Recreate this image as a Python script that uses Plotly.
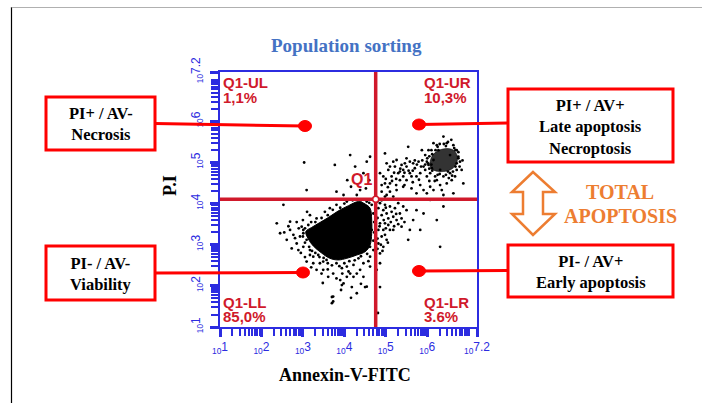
import plotly.graph_objects as go

# ---------------- data (log10 decades) ----------------
TITLE = "Population sorting"
X_TITLE = "Annexin-V-FITC"
Y_TITLE = "P.I"
TICK_LOG = [1, 2, 3, 4, 5, 6, 7.2]
TICK_EXP = ["1", "2", "3", "4", "5", "6", "7.2"]
AXIS_RANGE = [1, 7.2]

GATE_X_LOG = 4.756   # Annexin-V gate
GATE_Y_LOG = 4.105   # PI gate

QUAD_NAMES = ["Q1-UL", "Q1-UR", "Q1-LL", "Q1-LR"]
QUAD_PCTS = ["1,1%", "10,3%", "85,0%", "3.6%"]

# outline of the dense viable population
MAIN_X = [4.34, 4.50, 4.62, 4.66, 4.66, 4.62, 4.50, 4.30, 4.06, 3.85, 3.65, 3.45,
          3.25, 3.13, 3.07, 3.21, 3.41, 3.61, 3.85, 4.10, 4.34]
MAIN_Y = [4.05, 3.99, 3.89, 3.60, 3.28, 2.99, 2.83, 2.75, 2.67, 2.63, 2.67, 2.80,
          2.97, 3.14, 3.32, 3.42, 3.54, 3.66, 3.82, 3.95, 4.05]
# outline of the dense late-apoptotic population
UR_X = [6.07, 6.15, 6.35, 6.59, 6.71, 6.71, 6.59, 6.39, 6.19, 6.08, 6.07]
UR_Y = [5.02, 5.20, 5.32, 5.32, 5.20, 4.98, 4.84, 4.78, 4.80, 4.88, 5.02]

# individual events
EVENTS = [
    # upper-left
    (3.03, 5.00), (3.77, 4.94), (4.14, 5.18), (3.09, 4.33), (3.81, 4.29), (4.07, 4.57),
    (4.26, 4.90), (4.54, 5.02), (4.62, 5.14), (4.38, 4.33), (4.52, 4.37), (4.60, 4.57),
    (4.16, 4.41), (4.46, 4.74), (3.98, 4.21), (4.30, 4.21),
    # upper-right
    (4.98, 5.22), (5.02, 4.98), (5.10, 4.90), (5.18, 5.02), (5.26, 5.06), (5.38, 4.94),
    (5.42, 4.82), (5.50, 5.10), (5.58, 4.74), (5.66, 4.98), (5.74, 4.66), (5.91, 4.90),
    (5.99, 5.02), (5.54, 5.38), (6.15, 5.47), (6.39, 5.63), (6.71, 5.30), (6.83, 4.82),
    (6.87, 4.49), (6.63, 4.25), (6.39, 4.21), (6.23, 4.57), (6.07, 4.41), (5.91, 4.33),
    (5.74, 4.25), (5.42, 4.41), (5.26, 4.33), (5.10, 4.49), (4.94, 4.66), (4.86, 4.74),
    (4.90, 4.29), (5.02, 4.21), (5.18, 4.17), (5.34, 4.57), (5.87, 5.30), (6.27, 5.30),
    (6.55, 5.18), (6.71, 4.98), (6.67, 4.66), (6.47, 4.49), (5.99, 4.66), (5.83, 4.45),
    (6.11, 4.86), (5.50, 4.57), (5.62, 4.37), (5.14, 4.66), (5.06, 4.82), (5.22, 4.90),
    (5.30, 4.74), (5.46, 4.98), (5.58, 5.02), (5.70, 4.86), (5.79, 5.02), (5.83, 4.74),
    (5.95, 4.82), (6.03, 4.94), (6.07, 4.74), (6.15, 5.06), (6.19, 4.66), (6.31, 4.82),
    (6.39, 4.66), (6.55, 4.74), (4.98, 4.49), (5.34, 4.78), (5.42, 4.66), (5.62, 4.66),
    (5.95, 5.18), (6.03, 5.30), (6.23, 5.42), (6.47, 5.47), (6.63, 5.42), (6.75, 5.14),
    (6.79, 5.02), (6.71, 4.82), (6.59, 4.57), (6.31, 4.45), (6.15, 4.33), (5.99, 4.25),
    (6.35, 4.33), (5.10, 4.29), (4.98, 4.17),
    (4.90, 4.45), (5.00, 4.60), (5.05, 4.40), (5.15, 4.55), (5.20, 4.75), (5.25, 4.60),
    (5.35, 4.85), (5.45, 4.75), (5.50, 4.90), (5.55, 4.80), (5.65, 4.80), (5.70, 5.05),
    (5.75, 4.95), (5.85, 4.90), (5.88, 5.05), (5.95, 4.95), (6.00, 5.10), (6.05, 4.85),
    (6.10, 4.95), (6.12, 5.20), (6.20, 5.30), (6.25, 4.70), (6.30, 5.45), (6.40, 5.45),
    (6.45, 4.70), (6.52, 4.62), (6.60, 4.68), (6.65, 5.35), (6.75, 5.25), (6.78, 4.90),
    (6.62, 4.78), (6.85, 5.05), (6.50, 5.50), (6.58, 5.55), (6.18, 4.55), (6.05, 4.55),
    (5.80, 4.58), (5.65, 4.52), (5.45, 4.45), (5.25, 4.45),
    (6.05, 5.15), (6.10, 5.30), (6.25, 5.38), (6.45, 5.40), (6.68, 5.30), (6.75, 5.10),
    (6.68, 4.90), (6.50, 4.78), (6.30, 4.72), (6.12, 4.80), (6.02, 4.98),
    # lower-right
    (4.86, 4.01), (4.94, 3.84), (5.02, 3.76), (5.10, 3.93), (5.18, 3.68), (5.26, 3.60),
    (4.98, 3.52), (5.10, 3.36), (4.90, 3.20), (5.34, 3.76), (5.42, 3.93), (5.18, 3.36),
    (5.02, 3.12), (4.94, 2.95), (4.86, 2.79), (5.58, 3.36), (5.66, 3.60), (5.83, 3.36),
    (5.91, 3.76), (6.23, 3.60), (6.39, 3.93), (6.31, 2.95), (5.54, 3.12), (5.38, 3.44),
    (6.07, 4.09), (5.74, 3.84), (4.82, 3.89), (4.90, 3.72), (4.98, 3.97), (5.06, 3.64),
    (5.14, 3.80), (5.22, 3.89), (4.86, 3.52), (4.94, 3.36), (5.06, 3.48), (4.82, 3.36),
    (5.30, 4.01), (5.38, 3.64), (5.50, 3.84), (4.82, 3.03), (4.98, 3.24), (4.86, 2.55),
    (4.78, 2.39), (4.86, 1.97), (4.81, 1.34),
    (4.80, 3.65), (4.85, 3.45), (4.80, 3.15), (4.88, 3.00), (4.92, 2.85), (4.80, 2.90),
    (5.00, 3.40), (5.05, 3.05), (5.12, 3.55), (5.20, 3.45), (5.25, 3.75), (4.95, 3.60),
    (5.00, 3.90), (4.80, 4.05), (4.90, 4.08), (5.30, 3.50), (5.45, 3.55),
    # lower-left
    (4.50, 1.97), (3.48, 2.07), (3.70, 1.73), (3.70, 1.58), (3.94, 2.02), (3.92, 1.90),
    (4.18, 1.97), (4.16, 1.71), (2.69, 3.36), (2.85, 3.03), (2.53, 3.97), (3.17, 3.72),
    (3.01, 3.36), (2.93, 3.20), (3.25, 2.71), (3.41, 2.55), (3.49, 2.39), (3.73, 2.30),
    (3.90, 2.14), (3.98, 2.06), (3.73, 1.74), (3.73, 1.62), (4.30, 1.82), (4.54, 1.98),
    (4.14, 2.30), (4.38, 2.39), (4.46, 2.55), (4.62, 2.71), (4.70, 2.87), (3.33, 2.95),
    (3.09, 3.12), (2.81, 3.16), (2.73, 2.91), (2.45, 3.28), (3.49, 2.59), (4.06, 2.47),
    (4.22, 2.22), (3.61, 2.22), (3.25, 2.55), (3.17, 2.75), (3.01, 2.95), (4.46, 2.22),
    (4.62, 2.47), (3.65, 3.89), (3.01, 3.28), (2.97, 3.44), (3.13, 3.48), (3.33, 3.64),
    (3.53, 3.80), (3.81, 3.97), (4.06, 4.05), (3.17, 2.87), (3.37, 2.75), (3.57, 2.63),
    (3.81, 2.55), (3.94, 2.43), (4.22, 2.51), (4.34, 2.67), (4.50, 2.87), (4.58, 3.12),
    (4.66, 3.36), (4.70, 3.76), (4.66, 3.97), (4.54, 4.05), (2.77, 3.24), (2.61, 3.12),
    (2.89, 2.87), (3.09, 2.59), (3.33, 2.39), (3.81, 2.18), (4.06, 2.22), (2.69, 3.56),
    (2.37, 3.52),
    (3.05, 3.05), (3.15, 2.95), (3.22, 2.85), (3.30, 2.80), (3.40, 2.70), (3.50, 2.68),
    (3.60, 2.55), (3.70, 2.50), (3.88, 2.48), (4.00, 2.55), (4.12, 2.60), (4.25, 2.62),
    (4.40, 2.72), (4.55, 2.78), (4.62, 2.95), (4.70, 3.10), (4.72, 3.30), (4.72, 3.55),
    (3.00, 3.20), (3.05, 3.40), (3.20, 3.55), (3.30, 3.55), (3.45, 3.65), (3.60, 3.72),
    (3.72, 3.85), (3.90, 3.90), (4.00, 4.00), (4.20, 4.08), (4.40, 4.08), (4.60, 4.02),
    (2.90, 3.40), (2.85, 3.55), (3.00, 3.60), (3.10, 3.80), (2.95, 2.80), (3.05, 2.70),
    (3.20, 2.45), (3.45, 2.30), (3.60, 2.40), (3.95, 2.30), (4.10, 2.35), (4.30, 2.30),
    (4.40, 2.05), (4.58, 2.60), (2.55, 3.30), (2.65, 3.45),
]

BOX_TEXTS = [
    "<b>PI+ / AV-<br>Necrosis</b>",
    "<b>PI- / AV-<br>Viability</b>",
    "<b>PI+ / AV+<br>Late apoptosis<br>Necroptosis</b>",
    "<b>PI- / AV+<br>Early apoptosis</b>",
]
SIDE_TEXT = ["TOTAL", "APOPTOSIS"]

# ---------------- styling ----------------
W, H = 702, 403
L, R, T, B = 220, 477, 72, 327
BLUE = "#2c2ce0"
GATE_RED = "#d0192b"
BOX_RED = "#ff0000"
ORANGE = "#ED7D31"
TITLE_BLUE = "#4472C4"
SERIF = "Liberation Serif, Times New Roman, serif"
SANS = "Liberation Sans, Arial, sans-serif"


def pxx(x):
    return (x - L) / (R - L)


def pxy(y):
    return (B - y) / (B - T)


def lin(v):
    return [10 ** a for a in v]


fig = go.Figure()

fig.add_trace(go.Scatter(x=lin(MAIN_X), y=lin(MAIN_Y), mode="lines", fill="toself",
                         fillcolor="black", line=dict(color="black", width=1, shape="spline"),
                         hoverinfo="skip"))
fig.add_trace(go.Scatter(x=lin(UR_X), y=lin(UR_Y), mode="lines", fill="toself",
                         fillcolor="rgba(0,0,0,0.8)", line=dict(color="rgba(0,0,0,0.6)", width=1, shape="spline"),
                         hoverinfo="skip"))
fig.add_trace(go.Scatter(x=lin([p[0] for p in EVENTS]), y=lin([p[1] for p in EVENTS]),
                         mode="markers", marker=dict(color="black", size=2.8),
                         hoverinfo="skip"))
# gate lines
fig.add_trace(go.Scatter(x=lin([GATE_X_LOG, GATE_X_LOG]), y=lin(AXIS_RANGE), mode="lines",
                         line=dict(color=GATE_RED, width=3.5), hoverinfo="skip"))
fig.add_trace(go.Scatter(x=lin(AXIS_RANGE), y=lin([GATE_Y_LOG, GATE_Y_LOG]), mode="lines",
                         line=dict(color=GATE_RED, width=3.5), hoverinfo="skip"))
fig.add_trace(go.Scatter(x=lin([GATE_X_LOG]), y=lin([GATE_Y_LOG]), mode="markers",
                         marker=dict(color="white", size=6, line=dict(color=GATE_RED, width=1.5)),
                         hoverinfo="skip"))

minor_vals = [m * 10 ** k for k in range(1, 8) for m in range(2, 10) if m * 10 ** k < 10 ** 7.2]
minor_vals.append(10 ** 7)
ticktext = ["<sub>10</sub>" + e for e in TICK_EXP]

axis_common = dict(
    type="log", range=AXIS_RANGE, showgrid=False, zeroline=False,
    showline=True, linecolor=BLUE, linewidth=1.5, mirror=True,
    tickmode="array", tickvals=lin(TICK_LOG), ticktext=ticktext,
    ticks="outside", ticklen=8, tickwidth=2.5, tickcolor=BLUE,
    tickfont=dict(family=SANS, size=12, color=BLUE),
    minor=dict(tickmode="array", tickvals=minor_vals, ticks="outside",
               ticklen=7, tickwidth=1.5, tickcolor=BLUE, showgrid=False),
)

fig.update_xaxes(**axis_common)
fig.update_yaxes(**axis_common, tickangle=-90, ticklabelstandoff=5)

shapes = []
annotations = []

# outer frame lines
shapes.append(dict(type="line", xref="paper", yref="paper", x0=pxx(11.5), x1=pxx(11.5),
                   y0=pxy(7), y1=pxy(405), line=dict(color="black", width=1.2)))
shapes.append(dict(type="line", xref="paper", yref="paper", x0=pxx(11.5), x1=pxx(702),
                   y0=pxy(7.5), y1=pxy(7.5), line=dict(color="#b0b0b0", width=1)))

# label boxes: (x0, y0, x1, y1), connector anchor, dot position
boxes = [
    ((46, 97, 155, 150), (155, 123.5), (305, 126)),
    ((46, 246, 155, 300), (155, 273), (303, 272.5)),
    ((508, 89, 673, 162), (508, 123), (419, 124.5)),
    ((508, 245, 673, 297), (508, 270.5), (419, 271)),
]
for (x0, y0, x1, y1), (ax, ay), (dx, dy) in boxes:
    shapes.append(dict(type="line", xref="paper", yref="paper", x0=pxx(ax), y0=pxy(ay),
                       x1=pxx(dx), y1=pxy(dy), line=dict(color=BOX_RED, width=3)))
    shapes.append(dict(type="rect", xref="paper", yref="paper", x0=pxx(x0), x1=pxx(x1),
                       y0=pxy(y1), y1=pxy(y0), line=dict(color=BOX_RED, width=3),
                       fillcolor="white"))
    shapes.append(dict(type="circle", xref="paper", yref="paper", x0=pxx(dx - 6.5), x1=pxx(dx + 6.5),
                       y0=pxy(dy + 5.5), y1=pxy(dy - 5.5), line=dict(color=BOX_RED, width=1),
                       fillcolor=BOX_RED))

box_centres = [(100.5, 124), (100.5, 274), (590.5, 127), (590.5, 272)]
for txt, (cx, cy) in zip(BOX_TEXTS, box_centres):
    annotations.append(dict(x=pxx(cx), y=pxy(cy), xref="paper", yref="paper", text=txt,
                            showarrow=False, xanchor="center", yanchor="middle",
                            font=dict(family=SERIF, size=16.5, color="black")))

# double arrow
arrow_pts = [(533, 172), (512, 192), (523, 192), (523, 214), (512, 214), (533, 235),
             (555, 214), (543, 214), (543, 192), (555, 192)]
path = "M " + " L ".join(f"{pxx(a):.5f},{pxy(b):.5f}" for a, b in arrow_pts) + " Z"
shapes.append(dict(type="path", xref="paper", yref="paper", path=path,
                   line=dict(color=ORANGE, width=2.5), fillcolor="white"))

for txt, cy in zip(SIDE_TEXT, [192, 216]):
    annotations.append(dict(x=pxx(620), y=pxy(cy), xref="paper", yref="paper",
                            text=f"<b>{txt}</b>", showarrow=False, xanchor="center",
                            yanchor="middle", font=dict(family=SERIF, size=20, color=ORANGE)))

# quadrant labels
quad_pos = [(221, 83, 97), (422, 83, 97), (221, 302.5, 316.5), (422, 302.5, 316.5)]
for name, pct, (qx, y1, y2) in zip(QUAD_NAMES, QUAD_PCTS, quad_pos):
    for t, yy in ((name, y1), (pct, y2)):
        annotations.append(dict(x=pxx(qx), y=pxy(yy), xref="paper", yref="paper",
                                text=f"<b>{t}</b>",
                                showarrow=False, xanchor="left", yanchor="middle",
                                font=dict(family=SANS, size=15, color=GATE_RED)))
annotations.append(dict(x=pxx(361.5), y=pxy(179), xref="paper", yref="paper", text="<b>Q1</b>",
                        showarrow=False, xanchor="center", yanchor="middle",
                        font=dict(family=SANS, size=16, color=GATE_RED)))

# titles
annotations.append(dict(x=pxx(346), y=pxy(46), xref="paper", yref="paper",
                        text=f"<b>{TITLE}</b>", showarrow=False, xanchor="center",
                        yanchor="middle", font=dict(family=SERIF, size=19, color=TITLE_BLUE)))
annotations.append(dict(x=pxx(345), y=pxy(375), xref="paper", yref="paper",
                        text=f"<b>{X_TITLE}</b>", showarrow=False, xanchor="center",
                        yanchor="middle", font=dict(family=SERIF, size=18, color="black")))
annotations.append(dict(x=pxx(170), y=pxy(186), xref="paper", yref="paper",
                        text=f"<b>{Y_TITLE}</b>", showarrow=False, xanchor="center",
                        yanchor="middle", textangle=-90,
                        font=dict(family=SERIF, size=18, color="black")))

fig.update_layout(
    width=W, height=H,
    margin=dict(l=L, r=W - R, t=T, b=H - B, pad=0),
    paper_bgcolor="white", plot_bgcolor="white",
    showlegend=False, hovermode=False,
    shapes=shapes, annotations=annotations,
)

fig.write_html("out.html", config={"displayModeBar": False},
               post_script="document.body.style.margin='0px';")
